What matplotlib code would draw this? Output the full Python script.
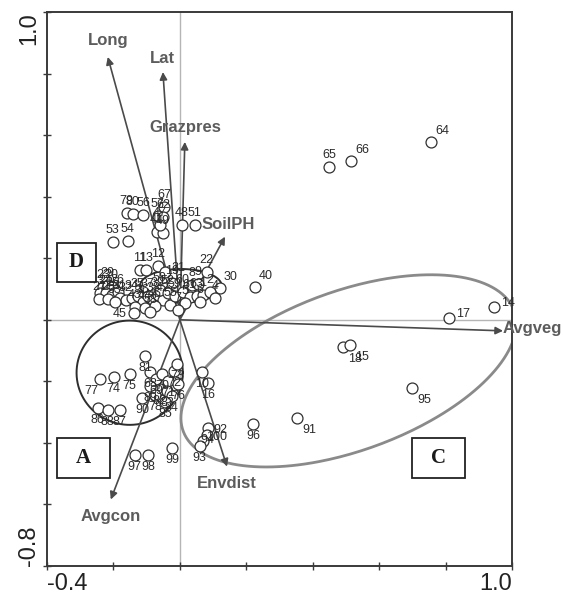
import numpy as np
import matplotlib
matplotlib.use("Agg")
import matplotlib.pyplot as plt
from matplotlib.patches import Rectangle

plt.rcParams['font.family'] = ['Liberation Sans', 'DejaVu Sans']

# ---------------- data ----------------
site_ids = [64, 65, 66, 40, 17, 14, 18, 15, 95, 91, 96, 10, 16, 94, 92, 100, 93, 99, 97, 98,
            30, 22, 53, 54, 79, 80, 56, 67, 57, 62, 41, 49, 47, 48, 51, 11, 13, 12, 21,
            23, 29, 20, 3, 24, 25, 26, 27, 28, 31, 32, 33, 34, 35, 36, 37, 38, 39, 42, 43,
            44, 46, 50, 52, 55, 58, 45, 59, 60, 61, 63, 1, 2, 4, 5, 6, 7, 8, 9, 19,
            81, 77, 74, 75, 68, 69, 70, 71, 72, 73, 76, 82, 83, 84, 89, 78, 90, 85, 86, 88, 87]
site_x = [0.756, 0.449, 0.515, 0.226, 0.810, 0.946, 0.491, 0.512, 0.699, 0.352, 0.220, 0.066, 0.084,
          0.084, 0.081, 0.069, 0.060, -0.024, -0.136, -0.096,
          0.120, 0.081, -0.202, -0.157, -0.160, -0.142, -0.111, -0.048, -0.066, -0.051, -0.069,
          -0.051, -0.060, 0.006, 0.045, -0.120, -0.102, -0.066, -0.045,
          -0.232, -0.217, -0.205, -0.241, -0.223, -0.205, -0.187, -0.244, -0.217, -0.181, -0.163,
          -0.196, -0.145, -0.127, -0.111, -0.096, -0.081, -0.066, -0.051, -0.136, -0.105, -0.075,
          -0.060, -0.036, -0.030, -0.090, -0.139, -0.015, 0.009, 0.030, 0.051, 0.069, 0.090, 0.105,
          0.015, 0.060, -0.006, 0.036, 0.054, -0.024,
          -0.105, -0.241, -0.199, -0.151, -0.090, -0.072, -0.054, -0.036, -0.018, -0.009, -0.006,
          -0.060, -0.039, -0.024, -0.090, -0.075, -0.114, -0.045, -0.247, -0.217, -0.181]
site_y = [0.578, 0.497, 0.516, 0.107, 0.006, 0.042, -0.088, -0.081, -0.221, -0.318, -0.338, -0.169,
          -0.205, -0.351, -0.373, -0.393, -0.409, -0.416, -0.438, -0.438,
          0.104, 0.156, 0.253, 0.256, 0.347, 0.344, 0.341, 0.367, 0.338, 0.334, 0.286, 0.282,
          0.308, 0.308, 0.308, 0.162, 0.162, 0.175, 0.156,
          0.107, 0.114, 0.107, 0.088, 0.088, 0.081, 0.091, 0.068, 0.068, 0.071, 0.065, 0.058,
          0.071, 0.078, 0.058, 0.078, 0.065, 0.081, 0.065, 0.042, 0.039, 0.045, 0.097, 0.088,
          0.049, 0.026, 0.023, 0.078, 0.091, 0.075, 0.078, 0.081, 0.091, 0.071, 0.055, 0.058,
          0.032, 0.114, 0.117, 0.120,
          -0.117, -0.192, -0.185, -0.175, -0.169, -0.192, -0.175, -0.198, -0.166, -0.143, -0.208,
          -0.224, -0.231, -0.247, -0.214, -0.244, -0.253, -0.266, -0.286, -0.292, -0.292]

env_names = ['Long', 'Lat', 'Grazpres', 'SoilPH', 'Avgveg', 'Envdist', 'Avgcon']
env_x = [-0.217, -0.051, 0.015, 0.136, 0.973, 0.142, -0.208]
env_y = [0.854, 0.805, 0.578, 0.270, -0.036, -0.477, -0.584]

group_names = ['D', 'A', 'C']

# ---------------- styling / layout ----------------
W, H = 563, 594
fig = plt.figure(figsize=(W / 100, H / 100), dpi=100)
ax_rect = [47 / W, 1 - 566 / H, (512 - 47) / W, (566 - 12) / H]
ax = fig.add_axes(ax_rect)
xlim = (-0.4, 1.0)
ylim = (-0.8, 1.0)
ax.set_xlim(*xlim)
ax.set_ylim(*ylim)

# pixel per unit, used to draw rotated ellipses in display-like space
sx = W * ax_rect[2] / (xlim[1] - xlim[0])
sy = H * ax_rect[3] / (ylim[1] - ylim[0])

# reference lines
ax.axhline(0, color='#b5b5b5', lw=1.0, zorder=1)
ax.axvline(0, color='#b5b5b5', lw=1.0, zorder=1)

# group ellipses (center in data, semi-axes in x-data units, angle in deg)
ellipses = {
    'D': dict(c=(0.003, 0.110), a=0.123, b=0.051, ang=0, color='#2e2e2e', lw=1.4),
    'A': dict(c=(-0.151, -0.172), a=0.160, b=0.157, ang=0, color='#2e2e2e', lw=1.4),
    'C': dict(c=(0.508, -0.166), a=0.530, b=0.240, ang=20, color='#8a8a8a', lw=2.0),
}
t = np.linspace(0, 2 * np.pi, 300)
for g in group_names:
    e = ellipses[g]
    th = np.deg2rad(e['ang'])
    u = e['a'] * np.cos(t)
    v = e['b'] * np.sin(t)
    ex = u * np.cos(th) - v * np.sin(th)
    ey = (u * np.sin(th) + v * np.cos(th)) * sx / sy
    ax.plot(e['c'][0] + ex, e['c'][1] + ey, color=e['color'], lw=e['lw'], zorder=2)

# group boxes
boxes = {
    'D': (-0.370, 0.123, 0.117, 0.127),
    'A': (-0.370, -0.513, 0.159, 0.130),
    'C': (0.699, -0.513, 0.159, 0.130),
}
for g in group_names:
    x0, y0, w, h = boxes[g]
    ax.add_patch(Rectangle((x0, y0), w, h, fill=True, facecolor='white',
                           edgecolor='#222222', lw=1.3, zorder=5))
    ax.text(x0 + w / 2, y0 + h / 2, g, ha='center', va='center', fontsize=15,
            fontweight='bold', family=['Liberation Serif', 'DejaVu Serif'],
            color='#1a1a1a', zorder=6)

# environmental arrows
arrow_color = '#4a4a4a'
label_off = {
    'Long': (0, 12, 'center', 'center'),
    'Lat': (0, 10, 'center', 'center'),
    'Grazpres': (0, 10, 'center', 'center'),
    'SoilPH': (2, 9, 'center', 'center'),
    'Avgveg': (0, 2, 'left', 'center'),
    'Envdist': (0, -12, 'center', 'center'),
    'Avgcon': (0, -12, 'center', 'center'),
}
for name, ex, ey in zip(env_names, env_x, env_y):
    ax.annotate('', xy=(ex, ey), xytext=(0, 0),
                arrowprops=dict(arrowstyle='-|>', color=arrow_color, lw=1.2,
                                mutation_scale=11, shrinkA=0, shrinkB=0), zorder=3)
    dx, dy, ha, va = label_off[name]
    ax.annotate(name, xy=(ex, ey), xytext=(dx, dy), textcoords='offset points',
                ha=ha, va=va, fontsize=12, fontweight='bold', color='#5c5c5c',
                annotation_clip=False, zorder=7)

# site points
ax.scatter(site_x, site_y, s=62, facecolors='white', edgecolors='#303030',
           linewidths=0.9, zorder=4)

offs = {'a': (0, 8.5), 'b': (0, -9), 'ur': (8, 8), 'r': (10, 3), 'br': (9, -9),
        'bl': (-6, -9), 'ul': (-6, 8), 'l': (-10, -1)}
placement = {64: 'ur', 66: 'ur', 40: 'ur', 17: 'r', 14: 'r', 18: 'br', 15: 'br',
             95: 'br', 91: 'br', 96: 'b', 10: 'b', 16: 'b', 94: 'b', 93: 'b', 99: 'b',
             97: 'b', 98: 'b', 30: 'ur', 21: 'r', 45: 'l', 81: 'b', 77: 'bl', 74: 'b',
             75: 'b', 90: 'b', 85: 'b', 86: 'b', 88: 'b', 87: 'b', 68: 'b', 69: 'b',
             70: 'b', 71: 'b', 72: 'b', 73: 'b', 76: 'b', 82: 'b', 83: 'b', 84: 'b',
             89: 'b', 78: 'b', 92: 'r', 100: 'r'}
for sid, x, y in zip(site_ids, site_x, site_y):
    dx, dy = offs[placement.get(sid, 'a')]
    ax.annotate(str(sid), xy=(x, y), xytext=(dx, dy), textcoords='offset points',
                ha='center', va='center', fontsize=9, color='#2a2a2a', zorder=4)

# axes styling
for sp in ax.spines.values():
    sp.set_color('#3a3a3a')
    sp.set_linewidth(1.4)

xt = np.round(np.arange(-0.4, 1.01, 0.2), 1)
yt = np.round(np.arange(-0.8, 1.01, 0.2), 1)
ax.set_xticks(xt)
ax.set_yticks(yt)
ax.set_xticklabels(['-0.4'] + [''] * (len(xt) - 2) + ['1.0'])
ax.set_yticklabels(['-0.8'] + [''] * (len(yt) - 2) + ['1.0'])
ax.tick_params(axis='both', direction='inout', length=6, width=1.0, color='#3a3a3a',
               labelsize=17, labelcolor='#222222', pad=2)
xl = ax.get_xticklabels()
xl[0].set_ha('left')
xl[-1].set_ha('right')
yl = ax.get_yticklabels()
for lab in yl:
    lab.set_rotation(90)
yl[0].set_va('bottom')
yl[-1].set_va('top')

fig.savefig('out.png', dpi=100)
